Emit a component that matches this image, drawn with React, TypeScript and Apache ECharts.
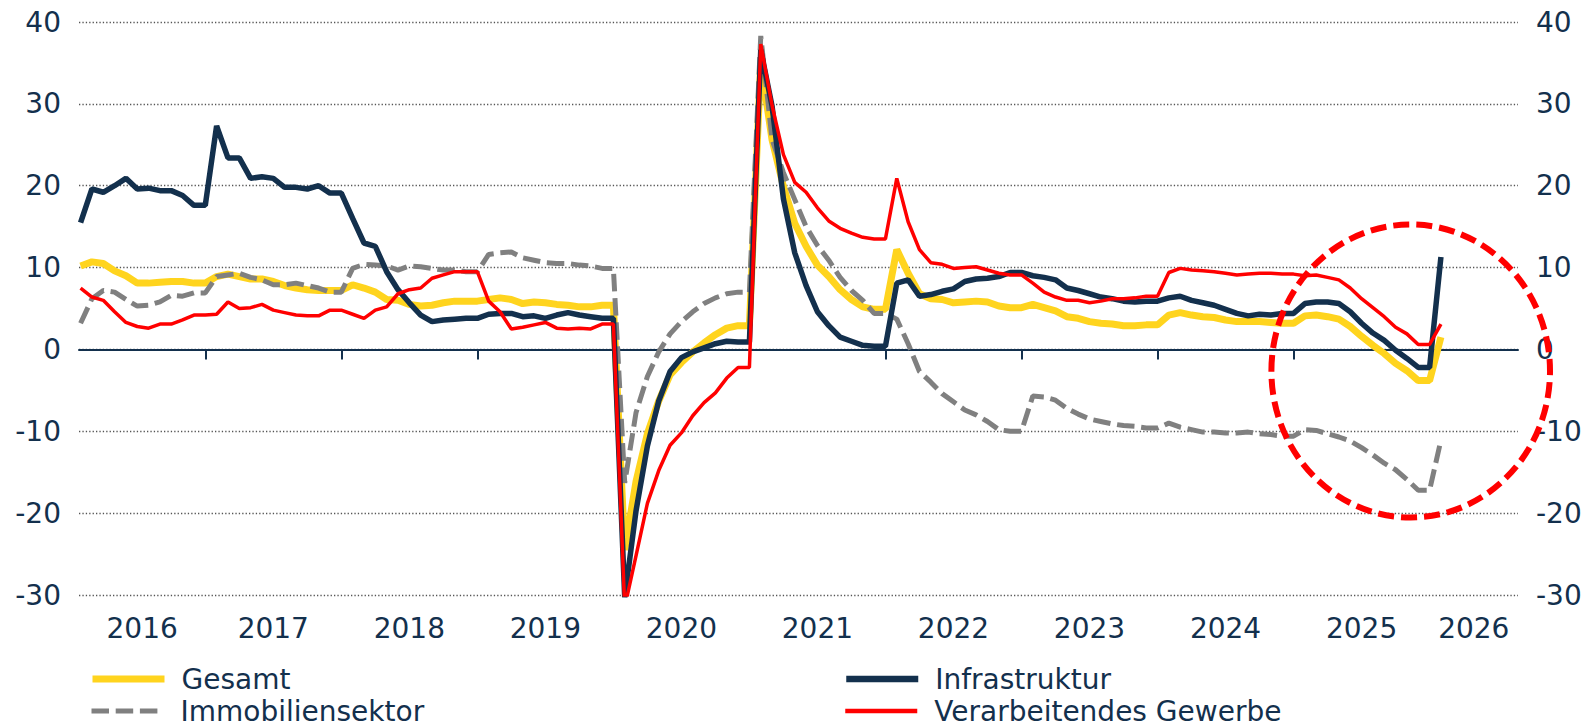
import React, { useEffect, useRef } from "react";
import * as echarts from "echarts";

// Monthly YTD growth (%), Feb 2016 ... Feb 2026 (January repeats the previous December)
const monthLabels: string[] = [];
for (let y = 2016; y <= 2026; y++) {
  for (let m = 1; m <= 12; m++) {
    if ((y === 2016 && m === 1) || (y === 2026 && m > 2)) continue;
    monthLabels.push(`${y}-${String(m).padStart(2, "0")}`);
  }
}

const yearLabels = ["2016", "2017", "2018", "2019", "2020", "2021", "2022", "2023", "2024", "2025", "2026"];

const gesamt = [
  10.2, 10.7, 10.5, 9.6, 9.0, 8.1, 8.1, 8.2, 8.3, 8.3, 8.1,
  8.1, 8.9, 9.2, 8.9, 8.6, 8.6, 8.3, 7.8, 7.5, 7.3, 7.2, 7.2,
  7.2, 7.9, 7.5, 7.0, 6.1, 6.0, 5.5, 5.3, 5.4, 5.7, 5.9, 5.9,
  5.9, 6.1, 6.3, 6.1, 5.6, 5.8, 5.7, 5.5, 5.4, 5.2, 5.2, 5.4,
  5.4, -24.5, -16.1, -10.3, -6.3, -3.1, -1.6, -0.3, 0.8, 1.8, 2.6, 2.9,
  2.9, 35.0, 25.6, 19.9, 15.4, 12.6, 10.3, 8.9, 7.3, 6.1, 5.2, 4.9,
  4.9, 12.2, 9.3, 6.8, 6.2, 6.1, 5.7, 5.8, 5.9, 5.8, 5.3, 5.1,
  5.1, 5.5, 5.1, 4.7, 4.0, 3.8, 3.4, 3.2, 3.1, 2.9, 2.9, 3.0,
  3.0, 4.2, 4.5, 4.2, 4.0, 3.9, 3.6, 3.4, 3.4, 3.4, 3.3, 3.2,
  3.2, 4.1, 4.2, 4.0, 3.7, 2.8, 1.6, 0.5, -0.5, -1.7, -2.6, -3.8,
  -3.8, 1.5,
];

const immobilien = [
  3.2, 6.2, 7.2, 7.0, 6.1, 5.3, 5.4, 5.8, 6.6, 6.5, 6.9,
  6.9, 8.9, 9.1, 9.3, 8.8, 8.5, 7.9, 7.9, 8.1, 7.8, 7.5, 7.0,
  7.0, 9.9, 10.4, 10.3, 10.2, 9.7, 10.2, 10.1, 9.9, 9.7, 9.7, 9.5,
  9.5, 11.6, 11.8, 11.9, 11.2, 10.9, 10.6, 10.5, 10.5, 10.3, 10.2, 9.9,
  9.9, -16.3, -7.7, -3.3, -0.3, 1.9, 3.4, 4.6, 5.6, 6.3, 6.8, 7.0,
  7.0, 38.3, 25.6, 21.6, 18.3, 15.0, 12.7, 10.9, 8.8, 7.2, 6.0, 4.4,
  4.4, 3.7, 0.7, -2.7, -4.0, -5.4, -6.4, -7.4, -8.0, -8.8, -9.8, -10.0,
  -10.0, -5.7, -5.8, -6.2, -7.2, -7.9, -8.5, -8.8, -9.1, -9.3, -9.4, -9.6,
  -9.6, -9.0, -9.5, -9.8, -10.1, -10.1, -10.2, -10.2, -10.1, -10.3, -10.4, -10.6,
  -10.6, -9.8, -9.9, -10.3, -10.7, -11.2, -12.0, -12.9, -13.9, -14.7, -15.9, -17.2,
  -17.2, -11.1,
];

const infrastruktur = [
  15.5, 19.6, 19.2, 20.0, 20.9, 19.6, 19.7, 19.4, 19.4, 18.8, 17.6,
  17.6, 27.3, 23.4, 23.4, 20.9, 21.1, 20.9, 19.8, 19.8, 19.6, 20.0, 19.1,
  19.1, 16.0, 13.0, 12.6, 9.5, 7.3, 5.7, 4.2, 3.4, 3.6, 3.7, 3.8,
  3.8, 4.3, 4.4, 4.4, 4.0, 4.1, 3.8, 4.2, 4.5, 4.2, 4.0, 3.8,
  3.8, -30.3, -19.7, -11.8, -6.3, -2.7, -1.0, -0.3, 0.2, 0.7, 1.0, 0.9,
  0.9, 36.6, 29.7, 18.4, 11.8, 7.8, 4.6, 2.9, 1.5, 1.0, 0.5, 0.4,
  0.4, 8.1, 8.5, 6.5, 6.7, 7.1, 7.4, 8.3, 8.6, 8.7, 8.9, 9.4,
  9.4, 9.0, 8.8, 8.5, 7.5, 7.2, 6.8, 6.4, 6.2, 5.9, 5.8, 5.9,
  5.9, 6.3, 6.5, 6.0, 5.7, 5.4, 4.9, 4.4, 4.1, 4.3, 4.2, 4.4,
  4.4, 5.6, 5.8, 5.8, 5.6, 4.6, 3.2, 2.0, 1.1, -0.1, -1.1, -2.2,
  -2.2, 11.3,
];

const verarbeitendes = [
  7.5, 6.4, 6.0, 4.6, 3.3, 2.8, 2.6, 3.1, 3.1, 3.6, 4.2,
  4.2, 4.3, 5.8, 5.0, 5.1, 5.5, 4.8, 4.5, 4.2, 4.1, 4.1, 4.8,
  4.8, 4.3, 3.8, 4.8, 5.2, 6.8, 7.3, 7.5, 8.7, 9.1, 9.5, 9.5,
  9.5, 5.9, 4.6, 2.5, 2.7, 3.0, 3.3, 2.6, 2.5, 2.6, 2.5, 3.1,
  3.1, -31.5, -25.2, -18.8, -14.8, -11.7, -10.2, -8.1, -6.5, -5.3, -3.5, -2.2,
  -2.2, 37.3, 29.8, 23.8, 20.4, 19.2, 17.3, 15.7, 14.8, 14.2, 13.7, 13.5,
  13.5, 20.9, 15.6, 12.2, 10.6, 10.4, 9.9, 10.0, 10.1, 9.7, 9.3, 9.1,
  9.1, 8.1, 7.0, 6.4, 6.0, 6.0, 5.7, 5.9, 6.2, 6.2, 6.3, 6.5,
  6.5, 9.4, 9.9, 9.7, 9.6, 9.5, 9.3, 9.1, 9.2, 9.3, 9.3, 9.2,
  9.2, 9.0, 9.1, 8.8, 8.5, 7.5, 6.2, 5.1, 4.0, 2.7, 1.9, 0.6,
  0.6, 3.1,
];

// axis positions in months since Jan 2016
const yearTickValues = [12, 24, 36, 48, 60, 72, 84, 96, 108, 120];
const yearLabelValues = [6.43, 18, 30, 42, 54, 66, 78, 90, 102, 114, 123.9];

const NAVY = "#13304D";
const YELLOW = "#FFD41E";
const GRAY = "#808080";
const RED = "#FF0000";
const FONT = "DejaVu Sans";
const GRAY_DASH = [17.5, 6.7];

const toPoints = (arr: number[]) => arr.map((v, k) => [k + 1, v]);

export default function App() {
  const ref = useRef<HTMLDivElement>(null);

  useEffect(() => {
    if (!ref.current) return;
    const chart = echarts.init(ref.current, null, { renderer: "svg" });

    const yAxisBase = {
      type: "value",
      min: -30,
      max: 40,
      interval: 10,
      axisLine: { show: false },
      axisTick: { show: false },
      axisLabel: { fontSize: 28, color: NAVY, fontFamily: FONT, margin: 18 },
    };

    const hiddenSymbol = { opacity: 0, borderWidth: 0 };

    const legendItem = (name: string, left: number, top: number, lineStyle: any) => ({
      orient: "horizontal",
      left,
      top,
      padding: 0,
      itemWidth: 72,
      itemHeight: 14,
      selectedMode: false,
      textStyle: {
        fontSize: 28,
        lineHeight: 30,
        color: NAVY,
        fontFamily: FONT,
        padding: [0, 0, 0, 12],
      },
      data: [{ name, itemStyle: hiddenSymbol, lineStyle: { opacity: 1, ...lineStyle } }],
    });

    chart.setOption({
      animation: false,
      backgroundColor: "#ffffff",
      grid: { left: 79, right: 68, top: 22, bottom: 131, containLabel: false },
      xAxis: {
        type: "value",
        min: 0.86,
        max: 127.8,
        splitLine: { show: false },
        axisLine: { show: true, lineStyle: { color: NAVY, width: 2 } },
        axisTick: {
          show: true,
          customValues: yearTickValues,
          length: 10,
          lineStyle: { color: NAVY, width: 2 },
        },
        axisLabel: {
          customValues: yearLabelValues,
          formatter: (v: number) => yearLabels[Math.floor(v / 12)] ?? "",
          fontSize: 28,
          color: NAVY,
          fontFamily: FONT,
          margin: 19,
        },
      },
      yAxis: [
        {
          ...yAxisBase,
          position: "left",
          splitLine: {
            show: true,
            lineStyle: { color: "#555555", width: 1.3, type: [1.3, 2.1] },
          },
        },
        { ...yAxisBase, position: "right", splitLine: { show: false } },
      ],
      legend: [
        legendItem("Gesamt", 89, 664, { color: YELLOW, width: 7, type: "solid" }),
        legendItem("Immobiliensektor", 89, 696, { color: GRAY, width: 5, type: GRAY_DASH }),
        legendItem("Infrastruktur", 843, 664, { color: NAVY, width: 6.5, type: "solid" }),
        legendItem("Verarbeitendes Gewerbe", 843, 696, { color: RED, width: 4.5, type: "solid" }),
      ],
      series: [
        {
          name: "Gesamt",
          type: "line",
          data: toPoints(gesamt),
          symbol: "none",
          showSymbol: false,
          itemStyle: { color: YELLOW },
          lineStyle: { color: YELLOW, width: 7 },
          markLine: {
            silent: true,
            symbol: "none",
            z: 1,
            label: { show: false },
            lineStyle: { color: NAVY, width: 2, type: "solid" },
            data: [{ yAxis: 0 }],
          },
        },
        {
          name: "Immobiliensektor",
          type: "line",
          data: toPoints(immobilien),
          symbol: "none",
          showSymbol: false,
          itemStyle: { color: GRAY },
          lineStyle: { color: GRAY, width: 5, type: GRAY_DASH },
        },
        {
          name: "Infrastruktur",
          type: "line",
          data: toPoints(infrastruktur),
          symbol: "none",
          showSymbol: false,
          itemStyle: { color: NAVY },
          lineStyle: { color: NAVY, width: 5.5 },
        },
        {
          name: "Verarbeitendes Gewerbe",
          type: "line",
          data: toPoints(verarbeitendes),
          symbol: "none",
          showSymbol: false,
          itemStyle: { color: RED },
          lineStyle: { color: RED, width: 3.5 },
        },
      ],
      graphic: [
        {
          type: "ellipse",
          silent: true,
          z: 100,
          shape: { cx: 1410.7, cy: 371, rx: 139.3, ry: 146.5 },
          style: { fill: null, stroke: RED, lineWidth: 6, lineDash: [16, 7] },
        },
      ],
    });

    return () => chart.dispose();
  }, []);

  return (
    <div
      ref={ref}
      style={{ position: "fixed", left: 0, top: 0, width: 1586, height: 726, background: "#fff" }}
    />
  );
}
